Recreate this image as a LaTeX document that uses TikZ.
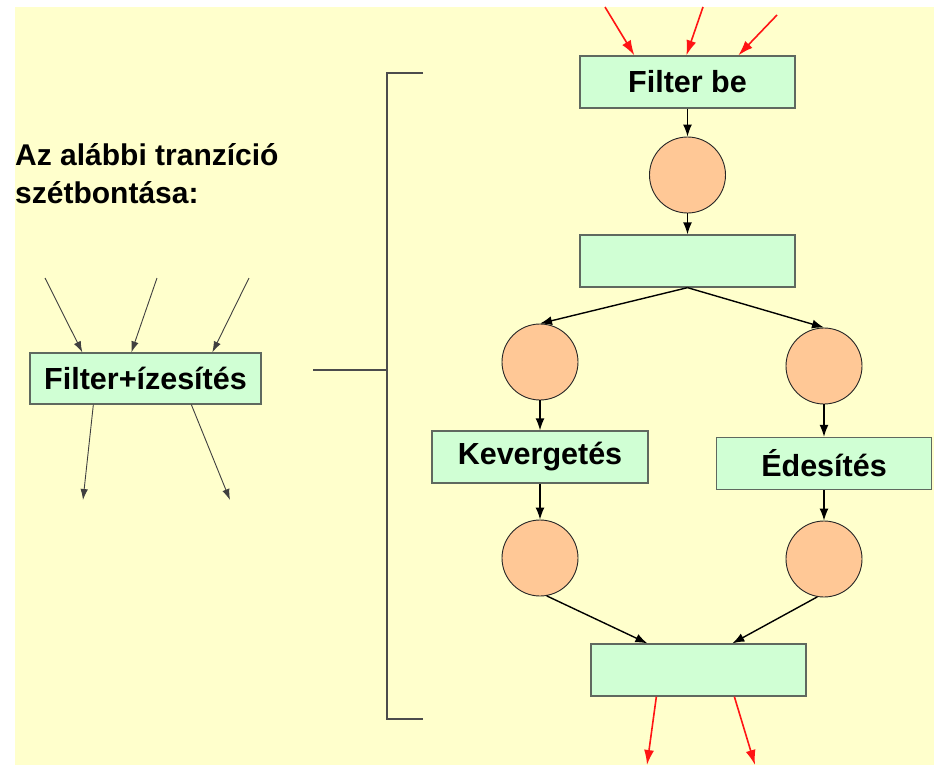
\documentclass[tikz,border=0pt]{standalone}
\usepackage{fontspec}
\setmainfont{Liberation Sans}
\usetikzlibrary{arrows.meta}
\definecolor{bg}{RGB}{255,255,204}
\definecolor{boxfill}{RGB}{208,255,212}
\definecolor{boxline}{RGB}{95,105,95}
\definecolor{placefill}{RGB}{255,200,150}
\definecolor{redarr}{RGB}{255,20,20}
\begin{document}
\begin{tikzpicture}[x=1pt,y=-1pt,
 trans/.style={draw=boxline, line width=1.3pt, fill=boxfill, minimum width=215pt, minimum height=52pt, inner sep=0pt, font=\bfseries\fontsize{30.5}{36}\selectfont},
 place/.style={circle, draw=black!85, line width=0.9pt, fill=placefill, minimum size=76pt, inner sep=0pt},
 arr/.style={-{Latex[length=12pt,width=9pt]}, line width=1.4pt, black},
 thinarr/.style={-{Latex[length=11pt,width=7.5pt]}, line width=0.9pt, black!75},
 redarrow/.style={-{Latex[length=15pt,width=10pt]}, line width=1.6pt, redarr},
 bracket/.style={line width=1.2pt, black!70},
 title/.style={anchor=base west, inner sep=0pt, font=\bfseries\fontsize{30}{36}\selectfont}]
\useasboundingbox (0,0) rectangle (934,765);
\fill[bg] (15,7) rectangle (934,765);
% title
\node[title] (title1) at (15,165) {Az alábbi tranzíció};
\node[title] (title2) at (15,203) {szétbontása:};
% left transition
\node[trans, minimum width=231pt, minimum height=51pt] (fi) at (145.5,378.5) {Filter+ízesítés};
\coordinate (a1) at (45,278);
\coordinate (a2) at (157,278);
\coordinate (a3) at (249,278);
\coordinate (o1) at (83,500);
\coordinate (o2) at (230,500);
\draw[thinarr] (a1) -- ([xshift=53pt]fi.north west);
\draw[thinarr] (a2) -- ([xshift=102pt]fi.north west);
\draw[thinarr] (a3) -- ([xshift=183pt]fi.north west);
\draw[thinarr] ([xshift=64pt]fi.south west) -- (o1);
\draw[thinarr] ([xshift=162pt]fi.south west) -- (o2);
% connector line and bracket
\coordinate (l1) at (313,370);
\coordinate (l2) at (387,370);
\coordinate (bt) at (423,73);
\coordinate (btc) at (387,73);
\coordinate (bbc) at (387,719);
\coordinate (bb) at (423,719);
\draw[bracket] (l1) -- (l2);
\draw[bracket] (bt) -- (btc) -- (bbc) -- (bb);
% right net
\node[trans] (fb) at (687.5,82) {Filter be};
\node[place] (p1) at (687.5,175) {};
\node[trans] (t2) at (687.5,261) {};
\node[place] (pl) at (540,362) {};
\node[place] (pr) at (824,366) {};
\node[trans, minimum width=216pt] (kev) at (540,457) {Kevergetés};
\node[trans] (ede) at (824,463.5) {Édesítés};
\node[place] (pll) at (540,558) {};
\node[place] (prr) at (824,559) {};
\node[trans] (tb) at (698.5,670) {};
\coordinate (r1) at (605,7);
\coordinate (r2) at (703,7);
\coordinate (r3) at (777,15);
\coordinate (ro1) at (647,765);
\coordinate (ro2) at (755,765);
\draw[redarrow] (r1) -- ([xshift=55pt]fb.north west);
\draw[redarrow] (r2) -- ([xshift=107pt]fb.north west);
\draw[redarrow] (r3) -- ([xshift=159pt]fb.north west);
\draw[arr] (fb.south) -- (p1.north);
\draw[arr] (p1.south) -- (t2.north);
\draw[arr] (t2.south) -- (pl.north);
\draw[arr] (t2.south) -- (pr.north);
\draw[arr] (pl.south) -- (kev.north);
\draw[arr] (pr.south) -- (ede.north);
\draw[arr] (kev.south) -- (pll.north);
\draw[arr] (ede.south) -- (prr.north);
\draw[arr] (pll.-80) -- ([xshift=57pt]tb.north west);
\draw[arr] (prr.-100) -- ([xshift=142pt]tb.north west);
\draw[redarrow] ([xshift=66pt]tb.south west) -- (ro1);
\draw[redarrow] ([xshift=144pt]tb.south west) -- (ro2);
\end{tikzpicture}
\end{document}
